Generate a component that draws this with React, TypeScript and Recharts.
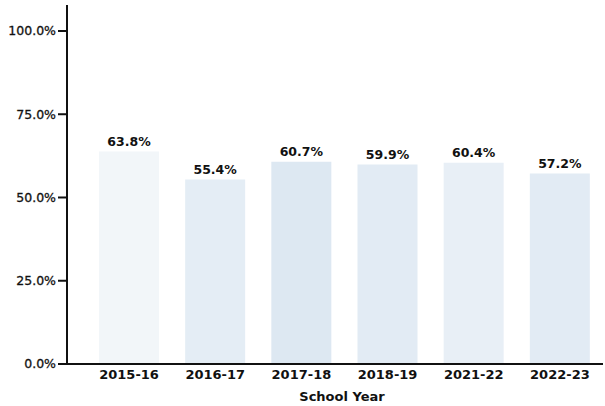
import { BarChart, Bar, XAxis, YAxis, LabelList, Cell } from "recharts";

const years = ["2015-16", "2016-17", "2017-18", "2018-19", "2021-22", "2022-23"];
const rates = [0.638, 0.554, 0.607, 0.599, 0.604, 0.572];
const yTicks = [0, 0.25, 0.5, 0.75, 1];

const barFills = ["#f2f6f9", "#e4edf5", "#dde8f2", "#e2ebf4", "#e8eff6", "#e2ebf4"];
const FONT = "'DejaVu Sans', Verdana, sans-serif";

const data = years.map((year, i) => ({ year, rate: rates[i] }));

const pct = (v: number) => `${(v * 100).toFixed(1)}%`;

export default function App() {
  return (
    <div style={{ position: "absolute", top: 0, left: 0, width: 605, height: 406, background: "#fff" }}>
      <BarChart width={605} height={406} data={data} margin={{ top: 5, right: 2, bottom: 0, left: 0 }}>
        <XAxis
          dataKey="year"
          height={42}
          padding={{ left: 19, right: 0 }}
          tickLine={false}
          axisLine={{ stroke: "#111", strokeWidth: 2 }}
          tick={{ fill: "#111", fontSize: 13, fontWeight: "bold", fontFamily: FONT, dy: -2 }}
          label={{ value: "School Year", position: "insideBottom", offset: 5, dx: 7, fill: "#111", fontSize: 13, fontWeight: "bold", fontFamily: FONT }}
        />
        <YAxis
          width={67}
          domain={[0, 1.078]}
          ticks={yTicks}
          tickFormatter={pct}
          tickSize={9}
          tickMargin={2}
          allowDataOverflow
          axisLine={{ stroke: "#111", strokeWidth: 2 }}
          tickLine={{ stroke: "#111", strokeWidth: 2 }}
          tick={{ fill: "#111", fontSize: 12.5, fontFamily: FONT, stroke: "#111", strokeWidth: 0.3 }}
        />
        <Bar dataKey="rate" barSize={60} isAnimationActive={false}>
          {data.map((d, i) => (
            <Cell key={d.year} fill={barFills[i]} />
          ))}
          <LabelList
            dataKey="rate"
            position="top"
            offset={6}
            formatter={(v: number) => pct(v)}
            style={{ fill: "#111", fontSize: 12.5, fontWeight: "bold", fontFamily: FONT }}
          />
        </Bar>
      </BarChart>
    </div>
  );
}
